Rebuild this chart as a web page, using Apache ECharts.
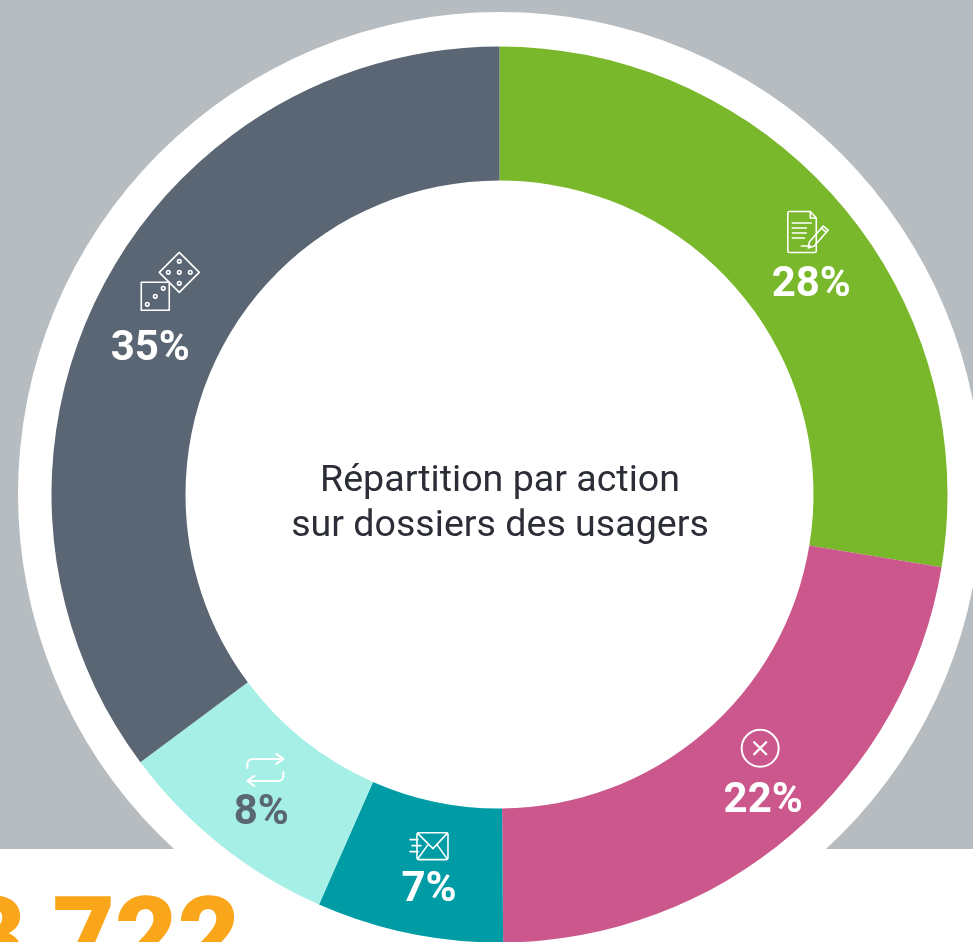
<!DOCTYPE html>
<html lang="fr">
<head>
  <meta charset="UTF-8">
  <style>
    html, body { margin: 0; padding: 0; background: #fff; overflow: hidden; }
    #container { width: 973px; height: 942px; }
  </style>
  <script src="https://cdn.jsdelivr.net/npm/echarts@6/dist/echarts.min.js"></script>
</head>
<body>
  <div id="container"></div>
  <script>
    var actions = ['Saisie', 'Rejet', 'Envoi', 'Transfert', 'Aléatoire'];
    var shares = [27.6, 22.27, 6.73, 8.2, 35.2];
    var sliceColors = ['#78b82a', '#cb578c', '#009ca6', '#a5efe6', '#5a6674'];
    var labelColors = ['#fff', '#fff', '#fff', '#5a6674', '#fff'];
    var title = 'Répartition par action\nsur dossiers des usagers';
    var bigNumber = '3 722';

    // small line icons, one per action. shift moves the drawing sideways inside its label box
    function svg(w, h, shift, body) {
      var pad = Math.abs(shift);
      var s = '<svg xmlns="http://www.w3.org/2000/svg" width="' + (w + 2 * pad) + '" height="' + h + '">' +
        '<g transform="translate(' + (pad + shift) + ',0)" fill="none" stroke="#fff" stroke-width="1.6" stroke-linecap="round" stroke-linejoin="round">' +
        body + '</g></svg>';
      return 'data:image/svg+xml;charset=utf-8,' + encodeURIComponent(s);
    }
    function pip(x, y) { return '<circle cx="' + x + '" cy="' + y + '" r="1.8"/>'; }

    var icons = [
      { w: 44, h: 44, shift: -3, body:
        '<path d="M3 1.5H24L30 8V41a1.5 1.5 0 0 1-1.5 1.5H3A1.5 1.5 0 0 1 1.5 41V3A1.5 1.5 0 0 1 3 1.5Z"/><path d="M24 1.5V8H30"/>' +
        '<path d="M6 13H25M6 18H20M6 23H20M6 28H18M15 36H24"/>' +
        '<path d="M23 32L37 16L42 20L28 36L22 38Z"/><path d="M35 18L40 22"/>' },
      { w: 40, h: 40, shift: -3, body:
        '<circle cx="20" cy="20" r="18.5" stroke-width="2"/><path d="M14 14L26 26M26 14L14 26" stroke-width="2.4"/>' },
      { w: 40, h: 30, shift: 0, body:
        '<rect x="8" y="1" width="31" height="27" rx="2"/><path d="M9 2L24 17L38 2M9 27L19 13M38 27L28 13"/>' +
        '<path d="M1 8H9M3 14H12M1 20H9"/>' },
      { w: 40, h: 34, shift: 4, body:
        '<path d="M2 15V11A5 5 0 0 1 7 6H37M31 1L38 6L31 11" stroke-width="2"/>' +
        '<path d="M38 19V23A5 5 0 0 1 33 28H3M9 23L2 28L9 33" stroke-width="2"/>' },
      { w: 60, h: 60, shift: 20, body:
        '<rect x="1" y="31" width="28" height="28"/>' + pip(7, 53) + pip(15, 45) + pip(23, 37) +
        '<path d="M39 1L59 21L39 41L19 21Z"/>' + pip(39, 10) + pip(28, 21) + pip(39, 21) + pip(50, 21) + pip(39, 32) }
    ];
    var labelOffsets = [[19, 17], [14, -5], [7, 5], [1, 2], [-6, -3]];
    var pctLineHeights = [62, 66, 58, 54, 76];

    var richStyles = {};
    icons.forEach(function (ic, i) {
      richStyles['icon' + i] = {
        width: ic.w + 2 * Math.abs(ic.shift),
        height: ic.h,
        backgroundColor: { image: svg(ic.w, ic.h, ic.shift, ic.body) }
      };
      richStyles['pct' + i] = {
        fontFamily: 'Roboto', fontWeight: 'bold', fontSize: 42, lineHeight: pctLineHeights[i], color: labelColors[i]
      };
    });

    var myChart = echarts.init(document.getElementById('container'), null, { renderer: 'canvas' });
    var option = {
      animation: false,
      backgroundColor: '#fff',
      title: {
        text: title,
        left: 495,
        top: 454,
        textAlign: 'center',
        textStyle: { fontFamily: 'Roboto', fontWeight: 'normal', fontSize: 37.6, lineHeight: 45, color: '#2b2e36' }
      },
      graphic: [
        { type: 'rect', z: 0, shape: { x: 0, y: 0, width: 973, height: 849 }, style: { fill: '#b6bcbf' } },
        {
          type: 'text', z: 20, left: -37, top: 892,
          style: { text: bigNumber, fontFamily: 'Roboto', fontWeight: 900, fontSize: 108, fill: '#faa61a' }
        }
      ],
      series: [
        {
          // white disc behind the ring
          type: 'pie', z: 1, silent: true, center: [500, 494], radius: [0, 482],
          label: { show: false }, labelLine: { show: false },
          itemStyle: { color: '#fff' },
          data: [1]
        },
        {
          type: 'pie', z: 2, silent: true, center: [499.5, 494.5], radius: [314, 448],
          startAngle: 90, clockwise: true,
          itemStyle: { borderWidth: 0 },
          labelLine: { show: false },
          label: { show: true, position: 'inside', rich: richStyles },
          data: actions.map(function (name, i) {
            return {
              name: name,
              value: shares[i],
              itemStyle: { color: sliceColors[i] },
              label: {
                offset: labelOffsets[i],
                formatter: '{icon' + i + '|}\n{pct' + i + '|' + Math.round(shares[i]) + '%}'
              }
            };
          })
        }
      ]
    };
    myChart.setOption(option);
  </script>
</body>
</html>
